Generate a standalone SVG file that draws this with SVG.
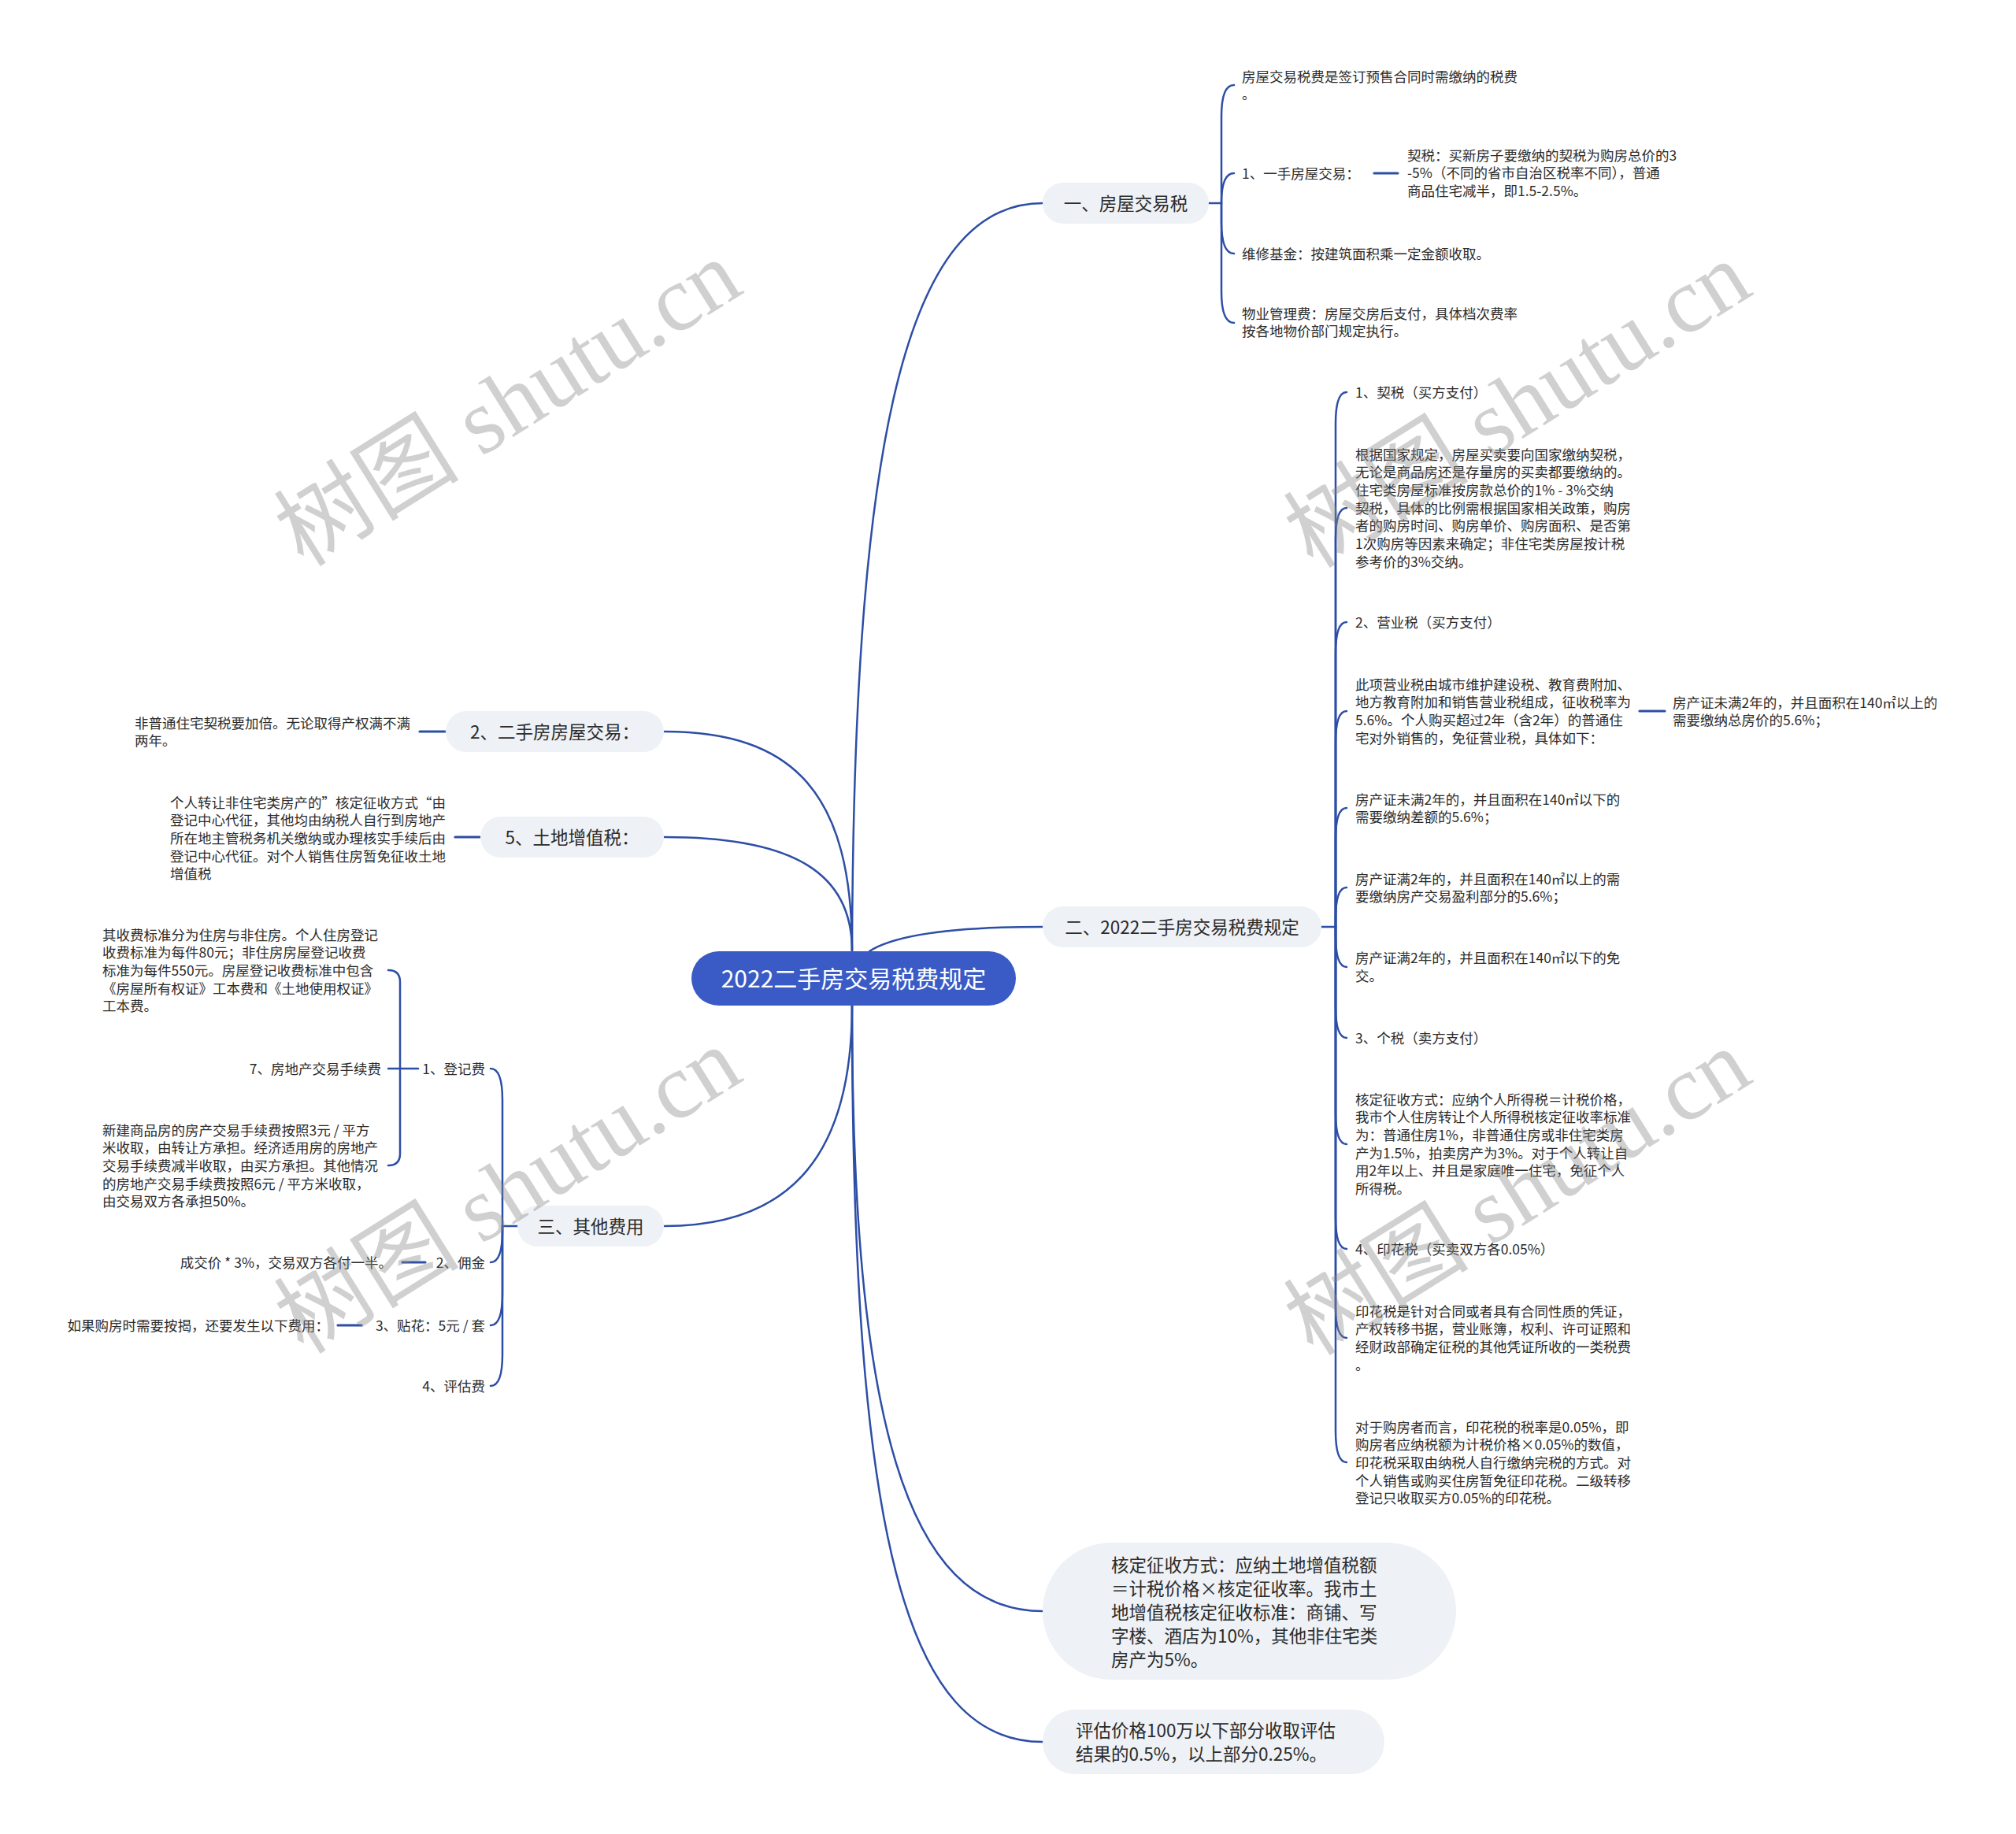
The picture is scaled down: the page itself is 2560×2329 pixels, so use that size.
<svg xmlns="http://www.w3.org/2000/svg" width="2560" height="2329" viewBox="0 0 2560 2329">
<style>
text{font-family:"Noto Sans CJK SC","Noto Sans",sans-serif;fill:#2b2b2b}
.t{font-size:17.5px}
.n{font-size:22.5px}
.m{text-anchor:middle}
.e{text-anchor:end}
.box{fill:#EEF1F5}
.root{fill:#3A5BC6}
.rt{font-size:30px;fill:#ffffff;text-anchor:middle}
.c path{fill:none;stroke:#2D4EA6;stroke-width:2.5;stroke-linecap:round}
.c path.s{stroke-width:3.2}
.wm{font-family:"Liberation Serif","Noto Sans CJK SC",serif;font-size:118px;fill:#8a8a8a;fill-opacity:0.4;text-anchor:middle}
</style>
<rect width="2560" height="2329" fill="#ffffff"/>

<g id="connectors" class="c">
  <path d="M1082 1207 C1084 560 1150 258 1324 258"/>
  <path d="M1104 1208 C1140 1185 1220 1177 1324 1177"/>
  <path d="M1082 1207 C1082 1010 1010 929 844 929"/>
  <path d="M1082 1207 C1082 1110 1010 1063 844 1063"/>
  <path d="M1082 1277 C1082 1460 1010 1557 844 1557"/>
  <path d="M1082 1277 C1082 1800 1150 2046 1324 2046"/>
  <path d="M1082 1277 C1082 1950 1150 2212 1324 2212"/>
  <path d="M1535 258 H1551"/>
  <path d="M1551 258 V148 Q1551 108 1567 108"/>
  <path d="M1551 258 Q1551 220 1567 220"/>
  <path d="M1551 258 V282 Q1551 322 1567 322"/>
  <path d="M1551 258 V370 Q1551 410 1567 410"/>
  <path class="s" d="M1745 220 H1775"/>
  <path d="M1678 1177 H1696"/>
  <path d="M1696 1177 V538 Q1696 498 1710 498"/>
  <path d="M1696 1177 V685 Q1696 645 1710 645"/>
  <path d="M1696 1177 V830 Q1696 790 1710 790"/>
  <path d="M1696 1177 V943 Q1696 903 1710 903"/>
  <path d="M1696 1177 V1066 Q1696 1026 1710 1026"/>
  <path d="M1696 1177 V1167 Q1696 1127 1710 1127"/>
  <path d="M1696 1177 V1188 Q1696 1228 1710 1228"/>
  <path d="M1696 1177 V1278 Q1696 1318 1710 1318"/>
  <path d="M1696 1177 V1413 Q1696 1453 1710 1453"/>
  <path d="M1696 1177 V1546 Q1696 1586 1710 1586"/>
  <path d="M1696 1177 V1659 Q1696 1699 1710 1699"/>
  <path d="M1696 1177 V1817 Q1696 1857 1710 1857"/>
  <path class="s" d="M2082 903 H2114"/>
  <path class="s" d="M533 929 H565"/>
  <path class="s" d="M578 1063 H609"/>
  <path d="M657 1557 H638"/>
  <path d="M638 1557 V1397 Q638 1357 623 1357"/>
  <path d="M638 1557 V1563 Q638 1603 623 1603"/>
  <path d="M638 1557 V1643 Q638 1683 623 1683"/>
  <path d="M638 1557 V1720 Q638 1760 623 1760"/>
  <path class="s" d="M511 1603 H540"/>
  <path class="s" d="M429 1683 H459"/>
  <path d="M531 1357 H493"/>
  <path d="M508 1357 V1247 Q508 1232 493 1232"/>
  <path d="M508 1357 V1465 Q508 1480 493 1480"/>
</g>

<g id="root">
  <rect class="root" x="878" y="1208" width="412" height="69" rx="34.5"/>
  <text class="rt" x="1084" y="1254">2022二手房交易税费规定</text>
</g>

<g id="n1">
  <rect class="box" x="1324" y="232" width="211" height="52" rx="26"/>
  <text class="n m" x="1429.5" y="266.5">一、房屋交易税</text>
</g>
<g id="n1a"><text class="t"><tspan x="1577" y="103.6">房屋交易税费是签订预售合同时需缴纳的税费</tspan><tspan x="1577" y="126.3">。</tspan></text></g>
<g id="n1b"><text class="t" x="1577" y="226.6">1、一手房屋交易：</text></g>
<g id="n1b1"><text class="t"><tspan x="1787" y="203.6">契税：买新房子要缴纳的契税为购房总价的3</tspan><tspan x="1787" y="226.3">-5%（不同的省市自治区税率不同），普通</tspan><tspan x="1787" y="249">商品住宅减半，即1.5-2.5%。</tspan></text></g>
<g id="n1c"><text class="t" x="1577" y="328.6">维修基金：按建筑面积乘一定金额收取。</text></g>
<g id="n1d"><text class="t"><tspan x="1577" y="404.6">物业管理费：房屋交房后支付，具体档次费率</tspan><tspan x="1577" y="427.3">按各地物价部门规定执行。</tspan></text></g>

<g id="n2">
  <rect class="box" x="1324" y="1151" width="354" height="52" rx="26"/>
  <text class="n m" x="1501" y="1185.5">二、2022二手房交易税费规定</text>
</g>
<g id="n2a"><text class="t" x="1721" y="504.6">1、契税（买方支付）</text></g>
<g id="n2b"><text class="t"><tspan x="1721" y="583.6">根据国家规定，房屋买卖要向国家缴纳契税，</tspan><tspan x="1721" y="606.3">无论是商品房还是存量房的买卖都要缴纳的。</tspan><tspan x="1721" y="629">住宅类房屋标准按房款总价的1% - 3%交纳</tspan><tspan x="1721" y="651.7">契税，具体的比例需根据国家相关政策，购房</tspan><tspan x="1721" y="674.4">者的购房时间、购房单价、购房面积、是否第</tspan><tspan x="1721" y="697.1">1次购房等因素来确定；非住宅类房屋按计税</tspan><tspan x="1721" y="719.8">参考价的3%交纳。</tspan></text></g>
<g id="n2c"><text class="t" x="1721" y="796.6">2、营业税（买方支付）</text></g>
<g id="n2d"><text class="t"><tspan x="1721" y="875.6">此项营业税由城市维护建设税、教育费附加、</tspan><tspan x="1721" y="898.3">地方教育附加和销售营业税组成，征收税率为</tspan><tspan x="1721" y="921">5.6%。个人购买超过2年（含2年）的普通住</tspan><tspan x="1721" y="943.7">宅对外销售的，免征营业税，具体如下：</tspan></text></g>
<g id="n2d1"><text class="t"><tspan x="2124" y="898.6">房产证未满2年的，并且面积在140㎡以上的</tspan><tspan x="2124" y="921.3">需要缴纳总房价的5.6%；</tspan></text></g>
<g id="n2e"><text class="t"><tspan x="1721" y="1021.6">房产证未满2年的，并且面积在140㎡以下的</tspan><tspan x="1721" y="1044.3">需要缴纳差额的5.6%；</tspan></text></g>
<g id="n2f"><text class="t"><tspan x="1721" y="1122.6">房产证满2年的，并且面积在140㎡以上的需</tspan><tspan x="1721" y="1145.3">要缴纳房产交易盈利部分的5.6%；</tspan></text></g>
<g id="n2g"><text class="t"><tspan x="1721" y="1223.1">房产证满2年的，并且面积在140㎡以下的免</tspan><tspan x="1721" y="1245.8">交。</tspan></text></g>
<g id="n2h"><text class="t" x="1721" y="1324.6">3、个税（卖方支付）</text></g>
<g id="n2i"><text class="t"><tspan x="1721" y="1402.6">核定征收方式：应纳个人所得税＝计税价格，</tspan><tspan x="1721" y="1425.3">我市个人住房转让个人所得税核定征收率标准</tspan><tspan x="1721" y="1448">为：普通住房1%，非普通住房或非住宅类房</tspan><tspan x="1721" y="1470.7">产为1.5%，拍卖房产为3%。对于个人转让自</tspan><tspan x="1721" y="1493.4">用2年以上、并且是家庭唯一住宅，免征个人</tspan><tspan x="1721" y="1516.1">所得税。</tspan></text></g>
<g id="n2j"><text class="t" x="1721" y="1592.6">4、印花税（买卖双方各0.05%）</text></g>
<g id="n2k"><text class="t"><tspan x="1721" y="1671.6">印花税是针对合同或者具有合同性质的凭证，</tspan><tspan x="1721" y="1694.3">产权转移书据，营业账簿，权利、许可证照和</tspan><tspan x="1721" y="1717">经财政部确定征税的其他凭证所收的一类税费</tspan><tspan x="1721" y="1739.7">。</tspan></text></g>
<g id="n2l"><text class="t"><tspan x="1721" y="1818.6">对于购房者而言，印花税的税率是0.05%，即</tspan><tspan x="1721" y="1841.3">购房者应纳税额为计税价格×0.05%的数值，</tspan><tspan x="1721" y="1864">印花税采取由纳税人自行缴纳完税的方式。对</tspan><tspan x="1721" y="1886.7">个人销售或购买住房暂免征印花税。二级转移</tspan><tspan x="1721" y="1909.4">登记只收取买方0.05%的印花税。</tspan></text></g>

<g id="n6">
  <rect class="box" x="1324" y="1959" width="525" height="174" rx="87"/>
  <text class="n"><tspan x="1411" y="1995.5">核定征收方式：应纳土地增值税额</tspan><tspan x="1411" y="2025.5">＝计税价格×核定征收率。我市土</tspan><tspan x="1411" y="2055.5">地增值税核定征收标准：商铺、写</tspan><tspan x="1411" y="2085.5">字楼、酒店为10%，其他非住宅类</tspan><tspan x="1411" y="2115.5">房产为5%。</tspan></text>
</g>
<g id="n7">
  <rect class="box" x="1324" y="2171" width="434" height="82" rx="41"/>
  <text class="n"><tspan x="1366" y="2205.5">评估价格100万以下部分收取评估</tspan><tspan x="1366" y="2235.5">结果的0.5%，以上部分0.25%。</tspan></text>
</g>

<g id="n3">
  <rect class="box" x="566" y="903" width="277" height="52" rx="26"/>
  <text class="n m" x="704.5" y="937.5">2、二手房房屋交易：</text>
</g>
<g id="n3a"><text class="t"><tspan x="171" y="924.6">非普通住宅契税要加倍。无论取得产权满不满</tspan><tspan x="171" y="947.3">两年。</tspan></text></g>

<g id="n4">
  <rect class="box" x="610" y="1037" width="233" height="52" rx="26"/>
  <text class="n m" x="726.5" y="1071.5">5、土地增值税：</text>
</g>
<g id="n4a"><text class="t"><tspan x="216" y="1025.6">个人转让非住宅类房产的”核定征收方式“由</tspan><tspan x="216" y="1048.3">登记中心代征，其他均由纳税人自行到房地产</tspan><tspan x="216" y="1071">所在地主管税务机关缴纳或办理核实手续后由</tspan><tspan x="216" y="1093.7">登记中心代征。对个人销售住房暂免征收土地</tspan><tspan x="216" y="1116.4">增值税</tspan></text></g>

<g id="n5">
  <rect class="box" x="657" y="1531" width="186" height="52" rx="26"/>
  <text class="n m" x="750" y="1565.5">三、其他费用</text>
</g>
<g id="n5a"><text class="t e" x="616" y="1363.6">1、登记费</text></g>
<g id="n5a1"><text class="t"><tspan x="130" y="1193.6">其收费标准分为住房与非住房。个人住房登记</tspan><tspan x="130" y="1216.3">收费标准为每件80元；非住房房屋登记收费</tspan><tspan x="130" y="1239">标准为每件550元。房屋登记收费标准中包含</tspan><tspan x="130" y="1261.7">《房屋所有权证》工本费和《土地使用权证》</tspan><tspan x="130" y="1284.4">工本费。</tspan></text></g>
<g id="n5a2"><text class="t e" x="484" y="1363.6">7、房地产交易手续费</text></g>
<g id="n5a3"><text class="t"><tspan x="130" y="1441.6">新建商品房的房产交易手续费按照3元 / 平方</tspan><tspan x="130" y="1464.3">米收取，由转让方承担。经济适用房的房地产</tspan><tspan x="130" y="1487">交易手续费减半收取，由买方承担。其他情况</tspan><tspan x="130" y="1509.7">的房地产交易手续费按照6元 / 平方米收取，</tspan><tspan x="130" y="1532.4">由交易双方各承担50%。</tspan></text></g>
<g id="n5b"><text class="t e" x="616" y="1609.6">2、佣金</text></g>
<g id="n5b1"><text class="t e" x="498" y="1609.6">成交价 * 3%，交易双方各付一半。</text></g>
<g id="n5c"><text class="t e" x="616" y="1689.6">3、贴花：5元 / 套</text></g>
<g id="n5c1"><text class="t e" x="418" y="1689.6">如果购房时需要按揭，还要发生以下费用：</text></g>
<g id="n5d"><text class="t e" x="616" y="1766.6">4、评估费</text></g>

<g id="watermarks">
  <text class="wm" transform="translate(645 512) rotate(-32)" x="0" y="40">树图 shutu.cn</text>
  <text class="wm" transform="translate(1927 514) rotate(-32)" x="0" y="40">树图 shutu.cn</text>
  <text class="wm" transform="translate(645 1512) rotate(-32)" x="0" y="40">树图 shutu.cn</text>
  <text class="wm" transform="translate(1927 1514) rotate(-32)" x="0" y="40">树图 shutu.cn</text>
</g>
</svg>
